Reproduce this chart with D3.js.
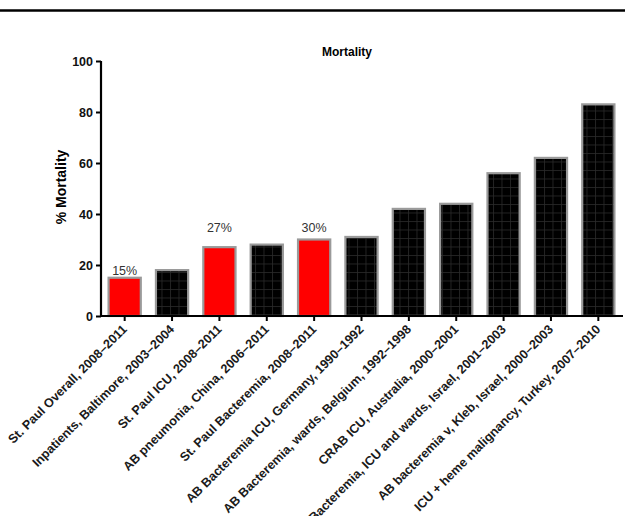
<!DOCTYPE html>
<html><head><meta charset="utf-8">
<script src="https://cdn.jsdelivr.net/npm/d3@7/dist/d3.min.js"></script>
<style>
html,body{margin:0;padding:0;background:#fff;overflow:hidden;}
svg text{font-family:"Liberation Sans",Arial,Helvetica,sans-serif;}
</style></head>
<body>
<svg id="chart" width="625" height="516"></svg>
<script>
const categories = [
  "St. Paul Overall, 2008\u20132011",
  "Inpatients, Baltimore,  2003\u20132004",
  "St. Paul ICU, 2008\u20132011",
  "AB pneumonia, China, 2006\u20132011",
  "St. Paul Bacteremia, 2008\u20132011",
  "AB Bacteremia ICU, Germany, 1990\u20131992",
  "AB Bacteremia, wards, Belgium, 1992\u20131998",
  "CRAB ICU, Australia, 2000\u20132001",
  "AB Bacteremia, ICU and wards, Israel, 2001\u20132003",
  "AB bacteremia v, Kleb, Israel, 2000\u20132003",
  "ICU + heme malignancy, Turkey, 2007\u20132010"
];
const mortality = [15, 18, 27, 28, 30, 31, 42, 44, 56, 62, 83];
const isStPaul = [true, false, true, false, true, false, false, false, false, false, false];
const yTicks = [0, 20, 40, 60, 80, 100];
const annotations = [
  {index: 0, text: "15%", at: 16},
  {index: 2, text: "27%", at: 33},
  {index: 4, text: "30%", at: 33}
];

const svg = d3.select("#chart");
const x0 = 101, x1 = 623, yBase = 316, yTop = 61;

// top rule
svg.append("line").attr("x1", 0).attr("x2", 625).attr("y1", 10.5).attr("y2", 10.5)
  .attr("stroke", "#000").attr("stroke-width", 2.6);

const x = d3.scaleBand().domain(categories).range([x0, x1 - 1]).paddingInner(0.32).paddingOuter(0.16);
const y = d3.scaleLinear().domain([0, 100]).range([yBase, yTop]);

// grid pattern for black bars
const defs = svg.append("defs");
const pat = defs.append("pattern").attr("id", "grid").attr("patternUnits", "userSpaceOnUse")
  .attr("width", 8.5).attr("height", 8.5);
pat.append("rect").attr("width", 8.5).attr("height", 8.5).attr("fill", "#000");
pat.append("path").attr("d", "M0,0.5H8.5M0.5,0V8.5").attr("stroke", "#2a2a2a").attr("stroke-width", 0.8);

// bars
svg.append("g").selectAll("rect").data(categories).join("rect")
  .attr("x", d => x(d))
  .attr("y", (d, i) => y(mortality[i]))
  .attr("width", x.bandwidth())
  .attr("height", (d, i) => y(0) - y(mortality[i]))
  .attr("fill", (d, i) => isStPaul[i] ? "#ff0000" : "url(#grid)")
  .attr("stroke", "#9a9a9a").attr("stroke-width", 2.2);

// annotations
svg.append("g").selectAll("text").data(annotations).join("text")
  .attr("x", d => x(categories[d.index]) + x.bandwidth() / 2)
  .attr("y", d => y(d.at))
  .attr("text-anchor", "middle")
  .attr("font-size", 12.5).attr("fill", "#333")
  .text(d => d.text);

// y axis
const yAxis = svg.append("g").attr("transform", `translate(${x0},0)`)
  .call(d3.axisLeft(y).tickValues(yTicks).tickSize(5).tickPadding(3));
yAxis.select(".domain").attr("stroke-width", 2.2).attr("d", `M0,${yTop}V${yBase + 1}`);
yAxis.selectAll(".tick line").attr("stroke-width", 2);
yAxis.selectAll(".tick text").attr("font-size", 12.5).attr("font-weight", "bold")
  .attr("font-family", "Liberation Sans, Arial, sans-serif").attr("fill", "#111");

// x axis
const xAxis = svg.append("g").attr("transform", `translate(0,${yBase})`)
  .call(d3.axisBottom(x).tickSize(5).tickFormat(""));
xAxis.select(".domain").attr("stroke-width", 2.2).attr("d", `M${x0 - 1},0H${x1}`);
xAxis.selectAll(".tick line").attr("stroke-width", 2);

// rotated category labels
svg.append("g").selectAll("text").data(categories).join("text")
  .attr("transform", d => `translate(${x(d) + x.bandwidth() / 2 + 3},${yBase + 14}) rotate(-45)`)
  .attr("text-anchor", "end")
  .attr("font-size", 12.6).attr("font-weight", "bold").attr("fill", "#1a1a1a")
  .text(d => d);

// title
svg.append("text").attr("x", 347).attr("y", 56).attr("text-anchor", "middle")
  .attr("font-size", 12).attr("font-weight", "bold").text("Mortality");

// y title
svg.append("text").attr("transform", `translate(66,187) rotate(-90)`)
  .attr("text-anchor", "middle").attr("font-size", 14).attr("font-weight", "bold")
  .text("% Mortality");
</script>
</body></html>
